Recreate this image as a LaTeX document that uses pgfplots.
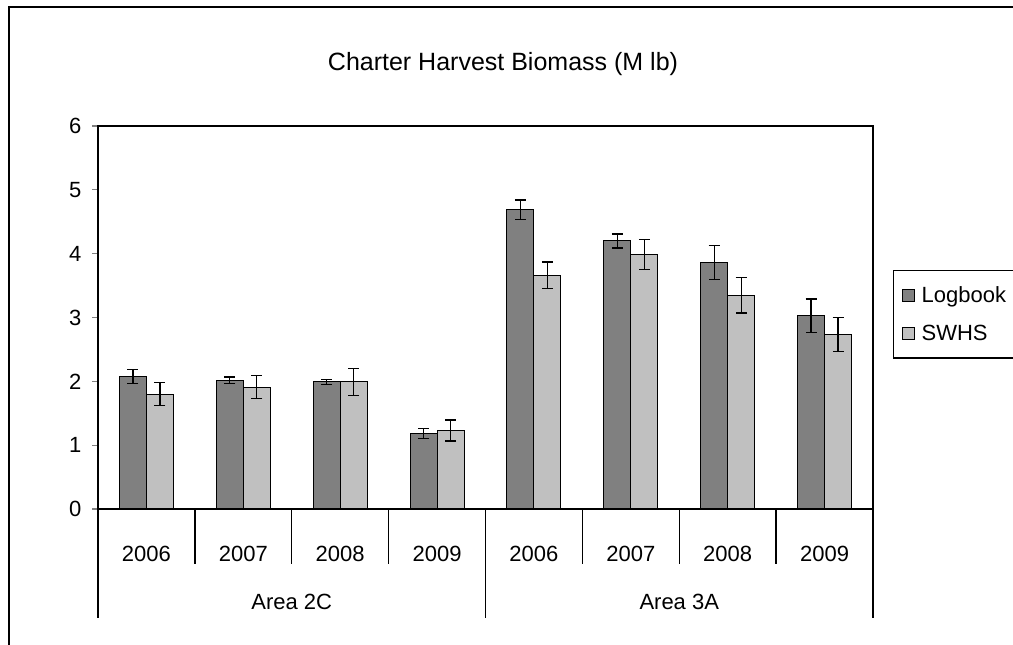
\documentclass[border=0pt]{standalone}
\usepackage{fontspec}
\setmainfont{Liberation Sans}
\usepackage{pgfplots}
\pgfplotsset{compat=1.18}
\usepackage{pgfplotstable}
\definecolor{logc}{HTML}{808080}
\definecolor{swhsc}{HTML}{C0C0C0}
\pgfplotstableread{
x y e
0 2.08 0.11
1 2.02 0.05
2 1.99 0.04
3 1.18 0.08
4 4.69 0.15
5 4.20 0.11
6 3.86 0.27
7 3.03 0.26
}\logbook
\pgfplotstableread{
x y e
0 1.80 0.18
1 1.91 0.18
2 1.99 0.21
3 1.23 0.165
4 3.66 0.21
5 3.99 0.235
6 3.35 0.28
7 2.73 0.265
}\swhs
\begin{document}
\begin{tikzpicture}[x=1pt,y=1pt]
\useasboundingbox (0,0) rectangle (1013,645);
\draw[line width=1.3pt] (9,-10) -- (9,638) -- (1030,638);
\node[font=\fontsize{25}{29}\selectfont] at (503,581) {Charter Harvest Biomass (M lb)};
\begin{axis}[
  at={(98pt,136pt)}, anchor=south west,
  scale only axis, width=775pt, height=383pt,
  xmin=-0.5, xmax=7.5, ymin=0, ymax=6,
  ybar=0pt, bar width=27pt,
  clip=false,
  axis line style={line width=1.3pt},
  ytick={0,1,2,3,4,5,6}, ytick pos=left,
  tick align=outside, major tick length=6pt,
  y tick style={line width=1.3pt},
  yticklabel style={xshift=-7pt},
  xtick={0,...,7}, xticklabels={2006,2007,2008,2009,2006,2007,2008,2009},
  x tick style={draw=none},
  xticklabel style={anchor=center, yshift=-38.5pt},
  tick label style={font=\fontsize{22}{26}\selectfont},
  /pgf/number format/assume math mode=true,
  legend style={at={(axis description cs:1.0258,0.624)}, anchor=north west,
    draw=black, line width=1.3pt, font=\fontsize{22}{26}\selectfont,
    inner xsep=8pt, inner ysep=14pt, row sep=17pt,
    /tikz/every odd column/.append style={column sep=5pt}},
  legend cell align=left,
  legend image code/.code={\draw[#1, line width=1pt] (0pt,-6pt) rectangle (12pt,6pt);},
  error bars/y dir=both, error bars/y explicit,
  error bars/error mark options={rotate=90, mark size=5.5pt, line width=1.3pt, black},
  error bars/error bar style={line width=1.3pt, black},
]
\addplot[fill=logc, draw=black, line width=1pt]
  table[x=x, y=y, y error=e] {\logbook};
\addlegendentry{Logbook\hspace{20pt}}
\addplot[fill=swhsc, draw=black, line width=1pt]
  table[x=x, y=y, y error=e] {\swhs};
\addlegendentry{SWHS}
\pgfplotsinvokeforeach{0.5,1.5,2.5,4.5,5.5,6.5}{
  \draw[line width=1.3pt] (axis cs:#1,0) -- ([yshift=-55pt]axis cs:#1,0);
}
\pgfplotsinvokeforeach{-0.5,3.5,7.5}{
  \draw[line width=1.3pt] (axis cs:#1,0) -- ([yshift=-109pt]axis cs:#1,0);
}
\node[font=\fontsize{22}{26}\selectfont] at (axis cs:1.5,0) [yshift=-93pt] {Area 2C};
\node[font=\fontsize{22}{26}\selectfont] at (axis cs:5.5,0) [yshift=-93pt] {Area 3A};
\end{axis}
\end{tikzpicture}
\end{document}
